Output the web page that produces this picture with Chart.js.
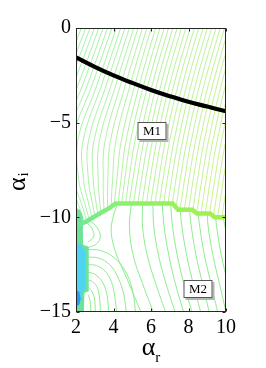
<!DOCTYPE html>
<html>
<head>
<meta charset="utf-8">
<script src="https://cdn.jsdelivr.net/npm/chart.js@4.4.0/dist/chart.umd.min.js"></script>
<style>
  html, body { margin: 0; padding: 0; background: #fff; }
  #c { display: block; }
</style>
</head>
<body>
<canvas id="c" width="266" height="368"></canvas>
<script>
// ---------------- data ----------------
const X_TICKS = [2, 4, 6, 8, 10];
const Y_TICKS = [0, -5, -10, -15];

// upper family of contours (mode M1): x of each contour at these alpha_i levels
const UPPER_Y = [0.5, -3, -6, -8, -9.3, -10.5];
const UPPER_X = [
  [2.25, 0.84, -0.55, -0.15, 0.90, 1.70],
  [2.48, 1.09, -0.26, 0.10, 1.05, 1.80],
  [2.71, 1.35, 0.03, 0.35, 1.25, 1.95],
  [2.94, 1.60, 0.32, 0.60, 1.42, 2.10],
  [3.17, 1.85, 0.62, 0.85, 1.60, 2.20],
  [3.40, 2.11, 0.91, 1.10, 1.78, 2.30],
  [3.63, 2.36, 1.20, 1.36, 1.95, 2.42],
  [3.86, 2.61, 1.49, 1.62, 2.12, 2.55],
  [4.09, 2.86, 1.78, 1.88, 2.30, 2.68],
  [4.32, 3.12, 2.08, 2.14, 2.48, 2.82],
  [4.55, 3.37, 2.37, 2.40, 2.68, 2.98],
  [4.78, 3.62, 2.66, 2.66, 2.88, 3.12],
  [5.01, 3.88, 2.95, 2.92, 3.08, 3.28],
  [5.24, 4.13, 3.24, 3.18, 3.28, 3.42],
  [5.47, 4.38, 3.54, 3.45, 3.48, 3.55],
  [5.70, 4.64, 3.83, 3.70, 3.68, 3.70],
  [5.93, 4.89, 4.12, 3.95, 3.88, 3.85],
  [6.16, 5.14, 4.41, 4.18, 4.05, 4.00],
  [6.39, 5.38, 4.66, 4.40, 4.24, 4.10],
  [6.62, 5.61, 4.90, 4.60, 4.43, 4.25],
  [6.85, 5.84, 5.14, 4.82, 4.64, 4.45],
  [7.08, 6.07, 5.38, 5.03, 4.83, 4.63],
  [7.31, 6.30, 5.61, 5.26, 5.06, 4.86],
  [7.54, 6.53, 5.84, 5.49, 5.29, 5.09],
  [7.77, 6.76, 6.07, 5.72, 5.52, 5.32],
  [8.00, 6.99, 6.30, 5.95, 5.75, 5.55],
  [8.23, 7.22, 6.53, 6.18, 5.98, 5.78],
  [8.46, 7.45, 6.76, 6.41, 6.21, 6.01],
  [8.69, 7.68, 6.99, 6.64, 6.44, 6.24],
  [8.92, 7.91, 7.22, 6.87, 6.67, 6.47],
  [9.15, 8.14, 7.45, 7.10, 6.90, 6.70],
  [9.38, 8.37, 7.68, 7.33, 7.13, 6.93],
  [9.61, 8.60, 7.91, 7.56, 7.36, 7.16],
  [9.84, 8.83, 8.14, 7.79, 7.59, 7.39],
  [10.07, 9.06, 8.37, 8.02, 7.82, 7.62],
  [10.30, 9.29, 8.60, 8.25, 8.05, 7.85],
  [10.53, 9.52, 8.83, 8.48, 8.28, 8.08],
  [10.76, 9.75, 9.06, 8.71, 8.51, 8.31],
  [10.99, 9.98, 9.29, 8.94, 8.74, 8.54],
  [11.22, 10.21, 9.52, 9.17, 8.97, 8.77],
  [11.45, 10.44, 9.75, 9.40, 9.20, 9.00],
  [11.68, 10.67, 9.98, 9.63, 9.43, 9.23],
  [11.91, 10.90, 10.21, 9.86, 9.66, 9.46],
  [12.14, 11.13, 10.44, 10.09, 9.89, 9.69],
  [12.37, 11.36, 10.67, 10.32, 10.12, 9.92],
  [12.60, 11.59, 10.90, 10.55, 10.35, 10.15]
];

// lower family of contours (mode M2), each one a list of [alpha_r, alpha_i]
const LOWER_LINES = [
  [[4.20, -9.3], [3.95, -10.1], [3.88, -10.8], [4.10, -11.8], [4.70, -13.2], [5.55, -15.2]],
  [[4.95, -9.3], [4.85, -10.5], [5.05, -12.0], [5.55, -13.5], [6.20, -15.2]],
  [[5.55, -9.3], [5.55, -10.5], [5.80, -12.0], [6.25, -13.5], [6.85, -15.2]],
  [[6.10, -9.3], [6.15, -10.5], [6.40, -12.0], [6.80, -13.5], [7.35, -15.2]],
  [[6.60, -9.3], [6.70, -10.5], [6.95, -12.0], [7.30, -13.5], [7.80, -15.2]],
  [[7.05, -9.3], [7.15, -10.5], [7.40, -12.0], [7.75, -13.5], [8.25, -15.2]],
  [[7.55, -9.5], [7.65, -10.5], [7.90, -12.0], [8.25, -13.5], [8.70, -15.2]],
  [[8.05, -9.6], [8.15, -10.5], [8.40, -12.0], [8.75, -13.5], [9.15, -15.2]],
  [[8.50, -9.7], [8.60, -10.5], [8.85, -12.0], [9.20, -13.5], [9.60, -15.2]],
  [[9.00, -9.8], [9.05, -10.5], [9.30, -12.0], [9.65, -13.5], [10.05, -15.2]],
  [[9.45, -10.0], [9.50, -10.5], [9.75, -12.0], [10.10, -13.5]],
  [[9.85, -10.0], [9.95, -10.5], [10.20, -12.0]],
  [[2.65, -11.7], [3.30, -11.75], [4.00, -12.1], [4.60, -12.8], [5.00, -13.8], [5.20, -15.2]],
  [[2.65, -12.1], [3.20, -12.15], [3.80, -12.5], [4.25, -13.2], [4.55, -14.1], [4.70, -15.2]],
  [[2.65, -12.5], [3.10, -12.55], [3.60, -12.9], [3.95, -13.6], [4.20, -15.2]],
  [[2.65, -12.9], [3.00, -13.0], [3.40, -13.4], [3.65, -14.1], [3.75, -15.2]],
  [[2.65, -13.3], [2.95, -13.45], [3.20, -13.9], [3.32, -15.2]],
  [[2.65, -13.7], [2.85, -13.9], [3.00, -14.4], [3.02, -15.2]],
  [[2.65, -14.1], [2.75, -14.4], [2.80, -15.2]],
  [[2.70, -10.15], [3.10, -10.5], [3.30, -11.0], [3.10, -11.4], [2.65, -11.6]],
  [[2.55, -10.25], [2.85, -10.6], [2.95, -11.0], [2.65, -11.3]]
];

// thick contour between the two regions
const BOUNDARY_X = [2.1, 2.5, 2.95, 3.4, 3.8, 4.12, 7.15, 7.45, 8.2, 8.45, 9.15, 9.4, 10.05];
const BOUNDARY_Y = [-10.4, -10.25, -9.98, -9.72, -9.5, -9.27, -9.27, -9.6, -9.6, -9.8, -9.8, -10.0, -10.0];

// black curve
const CURVE_X = [2, 3, 4, 5, 6, 7, 8, 9, 10];
const CURVE_Y = [-1.55, -2.05, -2.5, -2.9, -3.27, -3.6, -3.9, -4.15, -4.4];

// coloured strip at the left edge
const STRIP_GREEN = [[1.95, -9.5], [2.2, -9.6], [2.36, -9.95], [2.38, -11.45], [2.68, -11.55], [2.68, -13.9], [2.45, -14.0], [2.42, -15.2], [1.95, -15.2]];
const STRIP_CYAN = [[2.07, -11.3], [2.25, -11.45], [2.5, -11.75], [2.5, -13.8], [2.34, -13.95], [2.3, -14.4], [2.07, -14.5]];
const STRIP_BLUE = [[2.03, -13.85], [2.18, -13.95], [2.24, -14.3], [2.18, -14.6], [2.03, -14.7]];

const REGION_LABELS = ['M1', 'M2'];
const REGION_AT = [[6.03, -5.44], [8.53, -13.79]];

// ---------------- datasets ----------------
const toPts = (xs, ys) => xs.map((x, i) => ({ x: x, y: ys[i] }));
const pairPts = arr => arr.map(p => ({ x: p[0], y: p[1] }));

const datasets = [];

UPPER_X.forEach((row, i) => {
  const t = i / (UPPER_X.length - 1);
  const col = 'rgb(' + Math.round(160 + 45 * t) + ',242,' + Math.round(175 - 35 * t) + ')';
  datasets.push({
    data: toPts(row, UPPER_Y), showLine: true, borderColor: col, borderWidth: 1,
    pointRadius: 0, tension: 0.4, fill: false, clip: 0, order: 50
  });
});

// white area below the thick contour (hides the ends of the upper family)
const whiteX = [1.8].concat(BOUNDARY_X, [10.3, 10.3, 1.8]);
const whiteY = [-10.45].concat(BOUNDARY_Y, [-10.0, -15.5, -15.5]);
datasets.push({
  data: toPts(whiteX, whiteY), showLine: true, fill: 'shape', backgroundColor: '#ffffff',
  borderColor: 'transparent', borderWidth: 1, pointRadius: 0, tension: 0, clip: 0, order: 40
});

LOWER_LINES.forEach(line => {
  datasets.push({
    data: pairPts(line), showLine: true, borderColor: 'rgb(140,238,140)', borderWidth: 1,
    pointRadius: 0, tension: 0.4, fill: false, clip: 0, order: 30
  });
});

[[STRIP_GREEN, '#6de39a'], [STRIP_CYAN, '#4fd3f2'], [STRIP_BLUE, '#2d98f0']].forEach(([poly, col], i) => {
  datasets.push({
    data: pairPts(poly), showLine: true, fill: 'shape', backgroundColor: col,
    borderColor: 'transparent', borderWidth: 1, pointRadius: 0, tension: 0, clip: 0, order: 22 - i
  });
});

datasets.push({
  data: toPts(BOUNDARY_X, BOUNDARY_Y), showLine: true, borderWidth: 4.5,
  borderColor: ctx => {
    const area = ctx.chart.chartArea;
    if (!area) return '#8cf060';
    const g = ctx.chart.ctx.createLinearGradient(area.left, 0, area.right, 0);
    g.addColorStop(0, '#6ee896');
    g.addColorStop(0.3, '#8af070');
    g.addColorStop(1, '#a6f04a');
    return g;
  },
  pointRadius: 0, tension: 0, fill: false, clip: 0, order: 10
});

datasets.push({
  data: toPts(CURVE_X, CURVE_Y), showLine: true, borderColor: '#000', borderWidth: 4.2,
  pointRadius: 0, tension: 0.4, fill: false, clip: 0, order: 5
});

// ---------------- plugins ----------------
const SERIF = '"Liberation Serif", "DejaVu Serif", serif';

const boxes = {
  id: 'boxes',
  afterDatasetsDraw(chart) {
    const { ctx, scales: { x, y } } = chart;
    ctx.save();
    REGION_LABELS.forEach((t, i) => {
      const cx = Math.round(x.getPixelForValue(REGION_AT[i][0]));
      const cy = Math.round(y.getPixelForValue(REGION_AT[i][1]));
      const w = 29, h = 18;
      const l = cx - w / 2, tp = cy - h / 2;
      ctx.fillStyle = '#b5b5b5';
      ctx.fillRect(l + 2, tp + 2, w, h);
      ctx.fillStyle = '#fff';
      ctx.fillRect(l, tp, w, h);
      ctx.strokeStyle = '#555';
      ctx.lineWidth = 1;
      ctx.strokeRect(l + 0.5, tp + 0.5, w - 1, h - 1);
      ctx.fillStyle = '#000';
      ctx.font = '13px ' + SERIF;
      ctx.textAlign = 'center';
      ctx.textBaseline = 'middle';
      ctx.fillText(t, cx, cy + 1);
    });
    ctx.restore();
  }
};

const frame = {
  id: 'frame',
  afterDraw(chart) {
    const { ctx, chartArea: a, scales: { x, y } } = chart;
    const L = Math.round(a.left) + 0.5, R = Math.round(a.right) - 0.5;
    const T = Math.round(a.top) + 0.5, B = Math.round(a.bottom) - 0.5;
    ctx.save();
    ctx.strokeStyle = '#262626';
    ctx.lineWidth = 1;
    ctx.strokeRect(L, T, R - L, B - T);
    ctx.beginPath();
    X_TICKS.forEach(v => {
      const px = Math.round(x.getPixelForValue(v)) + 0.5;
      ctx.moveTo(px, B); ctx.lineTo(px, B - 3);
      ctx.moveTo(px, T); ctx.lineTo(px, T + 3);
    });
    Y_TICKS.forEach(v => {
      const py = Math.round(y.getPixelForValue(v)) + 0.5;
      ctx.moveTo(L, py); ctx.lineTo(L + 3, py);
      ctx.moveTo(R, py); ctx.lineTo(R - 3, py);
    });
    ctx.stroke();

    // axis titles with subscripts
    ctx.fillStyle = '#000';
    ctx.textBaseline = 'alphabetic';
    ctx.textAlign = 'left';
    const big = '26px ' + SERIF, small = '15px ' + SERIF;
    ctx.font = big;
    const wa = ctx.measureText('\u03b1').width;
    ctx.font = small;
    const wr = ctx.measureText('r').width;
    const cx = (a.left + a.right) / 2;
    const sx = cx - (wa + wr) / 2;
    ctx.font = big;
    ctx.fillText('\u03b1', sx, 355);
    ctx.font = small;
    ctx.fillText('r', sx + wa, 362);

    ctx.save();
    ctx.translate(25, 191);
    ctx.rotate(-Math.PI / 2);
    ctx.font = big;
    ctx.fillText('\u03b1', 0, 0);
    ctx.font = small;
    ctx.fillText('i', wa + 1, 3);
    ctx.restore();
    ctx.restore();
  }
};

// ---------------- chart ----------------
new Chart(document.getElementById('c'), {
  type: 'scatter',
  data: { datasets: datasets },
  options: {
    responsive: false,
    animation: false,
    devicePixelRatio: 1,
    events: [],
    layout: { padding: { left: 0, right: 40, top: 28, bottom: 0 } },
    plugins: { legend: { display: false }, tooltip: { enabled: false } },
    scales: {
      x: {
        type: 'linear', min: 2, max: 10,
        grid: { display: false, drawTicks: false },
        border: { display: false },
        afterBuildTicks: s => { s.ticks = X_TICKS.map(v => ({ value: v })); },
        afterFit: s => { s.height = 56; },
        ticks: { autoSkip: false, maxRotation: 0, padding: 4, color: '#000', font: { family: SERIF, size: 20 } }
      },
      y: {
        type: 'linear', min: -15, max: 0,
        grid: { display: false, drawTicks: false },
        border: { display: false },
        afterBuildTicks: s => { s.ticks = Y_TICKS.map(v => ({ value: v })); },
        afterFit: s => { s.width = 76; },
        ticks: {
          autoSkip: false, padding: 5, color: '#000', font: { family: SERIF, size: 20 },
          callback: v => String(v).replace('-', '\u2212')
        }
      }
    }
  },
  plugins: [boxes, frame]
});
</script>
</body>
</html>
